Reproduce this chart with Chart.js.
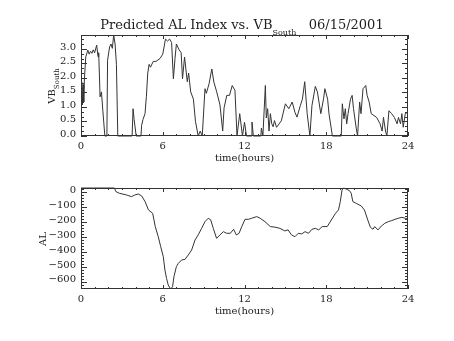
<!DOCTYPE html>
<html lang="en">
<head>
<meta charset="UTF-8">
<title>Predicted AL Index vs. VB South 06/15/2001</title>
<script src="https://cdn.jsdelivr.net/npm/chart.js"></script>
<style>
    body {
        margin: 0;
        background: #fff;
    }
    #wrap {
        position: relative;
        width: 454px;
        height: 341px;
        font-family: 'DejaVu Serif', serif;
        color: #222;
    }
    #top { position: absolute; left: 0; top: 0; }
    #bottom { position: absolute; left: 0; top: 170px; }
    .title {
        position: absolute;
        left: 242px;
        top: 18px;
        transform: translateX(-50%);
        font-size: 13px;
        line-height: 13px;
        white-space: nowrap;
    }
    .lo {
        position: relative;
        top: 6px;
        font-size: 8px;
    }
    .ylab {
        position: absolute;
        transform: translate(-50%, -50%) rotate(-90deg);
        font-size: 10px;
        line-height: 10px;
        white-space: nowrap;
    }
</style>
</head>
<body>
<div id="wrap">
    <canvas id="top" width="454" height="170"></canvas>
    <canvas id="bottom" width="454" height="171"></canvas>
    <div class="title">Predicted AL Index vs. VB<span class="lo">South</span>&nbsp;&nbsp;&nbsp;06/15/2001</div>
    <div class="ylab" style="left:52px; top:86px;">VB<span class="lo" style="top:4px;font-size:7px;">South</span></div>
    <div class="ylab" style="left:43px; top:239px;">AL</div>
</div>

<script>
// hours of day and the two series
const hourTicks = [0, 6, 12, 18, 24];

const vbTime = [0, 0.05, 0.1, 0.15, 0.2, 0.25, 0.35, 0.5, 0.6, 0.7, 0.8, 0.9, 1.0, 1.15, 1.25, 1.3, 1.4, 1.5, 1.6, 1.75,
    1.9, 1.95, 2.1, 2.2, 2.3, 2.4, 2.5, 2.6, 2.7, 3.75, 3.82, 3.9, 4.05, 4.4, 4.45, 4.55, 4.7, 4.8, 4.9, 5.0,
    5.1, 5.3, 5.5, 5.8, 6.0, 6.2, 6.35, 6.5, 6.65, 6.78, 6.9, 7.0, 7.2, 7.35, 7.45, 7.6, 7.8, 7.9, 8.05, 8.25,
    8.4, 8.6, 8.75, 8.9, 9.1, 9.2, 9.4, 9.6, 9.75, 9.96, 10.2, 10.4, 10.5, 10.7, 10.9, 11.1, 11.3, 11.45, 11.65, 11.85,
    12.0, 12.15, 12.5, 12.55, 12.65, 13.2, 13.24, 13.35, 13.53, 13.6, 13.7, 13.8, 13.9, 14.0, 14.1, 14.2, 14.35, 14.7, 15.0, 15.25,
    15.5, 15.7, 15.85, 16.1, 16.25, 16.42, 16.6, 16.8, 16.95, 17.2, 17.35, 17.6, 17.8, 17.9, 18.1, 18.2, 18.45, 19.1, 19.18, 19.3,
    19.4, 19.5, 19.6, 19.78, 19.9, 20.0, 20.2, 20.3, 20.45, 20.55, 20.7, 20.9, 21.0, 21.15, 21.3, 21.7, 21.95, 22.1, 22.2, 22.35,
    22.45, 22.6, 22.8, 23.0, 23.2, 23.3, 23.45, 23.55, 23.65, 23.8, 24.0];
const vbSouth = [1.07, 1.87, 1.07, 1.77, 1.17, 1.97, 2.73, 2.96, 2.82, 2.92, 2.85, 2.97, 2.87, 3.13, 2.73, 2.87, 1.35, 1.52, 0.89, 0,
    0, 2.61, 3.07, 3.17, 3.02, 3.48, 3.17, 2.47, 0, 0, 0.94, 0.57, 0, 0, 0.37, 0.57, 0.77, 1.37, 2.17, 2.47,
    2.37, 2.57, 2.57, 2.67, 2.82, 3.34, 3.27, 3.34, 3.22, 1.97, 2.67, 3.17, 2.97, 2.87, 1.97, 2.72, 1.87, 2.17, 1.52, 1.27,
    0.51, 0, 0.17, 0, 1.63, 1.47, 1.8, 2.31, 1.86, 1.52, 1.07, 0.17, 0.97, 1.4, 1.4, 1.74, 1.57, 0, 0.77, 0,
    0.47, 0, 0, 0.48, 0, 0, 0.27, 0, 1.74, 0.62, 0.94, 0.17, 0.77, 0.42, 0.32, 0.53, 0.3, 0.52, 1.11, 0.94,
    1.17, 0.82, 0.65, 1.05, 1.27, 1.87, 0.77, 0, 1.05, 1.71, 1.52, 0.77, 1.28, 1.63, 1.27, 0.77, 0, 0, 1.11, 0.59,
    0.94, 0.42, 0.77, 1.27, 1.4, 0.94, 0.27, 0, 1.17, 0.77, 1.63, 1.74, 1.4, 1.17, 0.77, 0.64, 0.42, 0.17, 0.64, 0.17,
    0, 0.87, 0.77, 0.64, 0.42, 0.64, 0.42, 0.77, 0.3, 0.77, 0.82];
const vbTicks = [0, 0.5, 1.0, 1.5, 2.0, 2.5, 3.0];

const alTime = [0, 2.45, 2.56, 2.8, 3.35, 3.7, 3.95, 4.2, 4.45, 4.7, 4.95, 5.26, 5.45, 5.67, 5.85, 6.04, 6.16, 6.28, 6.4, 6.58,
    6.72, 6.82, 7.0, 7.14, 7.39, 7.63, 7.87, 8.12, 8.37, 8.6, 8.85, 9.1, 9.34, 9.52, 9.71, 9.95, 10.2, 10.45, 10.69, 10.96,
    11.2, 11.4, 11.6, 11.8, 12.04, 12.3, 12.53, 12.9, 13.15, 13.5, 13.9, 14.25, 14.6, 14.96, 15.2, 15.45, 15.7, 15.95, 16.2, 16.45,
    16.7, 16.95, 17.2, 17.45, 17.7, 18.07, 18.37, 18.68, 18.9, 19.03, 19.16, 19.28, 19.48, 19.7, 19.83, 19.95, 20.2, 20.57, 20.8, 21.05,
    21.24, 21.43, 21.55, 21.8, 22.05, 22.3, 22.55, 22.8, 23.05, 23.3, 23.55, 23.8, 24.0];
const alIndex = [30, 30, 6, -5, -17, -28, -17, -10, -23, -61, -117, -140, -229, -297, -364, -431, -521, -577, -621, -648,
    -633, -565, -498, -476, -453, -449, -420, -386, -319, -285, -241, -196, -173, -184, -241, -308, -285, -263, -274, -274,
    -247, -285, -274, -229, -180, -180, -173, -162, -173, -196, -229, -233, -241, -258, -251, -285, -297, -274, -278, -263,
    -274, -247, -241, -251, -229, -229, -185, -140, -117, -61, 17, 30, 22, 13, -5, -61, -73, -91, -117, -185,
    -234, -247, -229, -251, -225, -207, -196, -189, -180, -173, -167, -173, -180];
const alTicks = [0, -100, -200, -300, -400, -500, -600];

const ink = '#222';
const tickFont = { family: "'DejaVu Serif', serif", size: 10 };

// box around the plot with inward ticks on all four sides
const idlFrame = {
    id: 'idlFrame',
    afterDatasetsDraw(chart, args, opts) {
        const { ctx, chartArea: a, scales: { x, y } } = chart;
        const isMajor = (v, step) => Math.abs(v / step - Math.round(v / step)) < 1e-6;
        ctx.save();
        ctx.strokeStyle = '#333';
        ctx.lineWidth = 1;
        ctx.strokeRect(a.left + 0.5, a.top + 0.5, a.right - a.left - 1, a.bottom - a.top - 1);
        ctx.beginPath();
        for (let v = x.min; v <= x.max + 1e-9; v += opts.xMinor) {
            const px = Math.round(x.getPixelForValue(v)) + 0.5;
            const len = isMajor(v, opts.xMajor) ? opts.xLen : opts.xLen / 2;
            ctx.moveTo(px, a.bottom); ctx.lineTo(px, a.bottom - len);
            ctx.moveTo(px, a.top); ctx.lineTo(px, a.top + len);
        }
        const start = Math.ceil(y.min / opts.yMinor - 1e-6) * opts.yMinor;
        for (let v = start; v <= y.max + 1e-9; v += opts.yMinor) {
            const py = Math.round(y.getPixelForValue(v)) + 0.5;
            const len = isMajor(v, opts.yMajor) ? opts.yLen : opts.yLen / 2;
            ctx.moveTo(a.left, py); ctx.lineTo(a.left + len, py);
            ctx.moveTo(a.right, py); ctx.lineTo(a.right - len, py);
        }
        ctx.stroke();
        ctx.restore();
    }
};

function makePanel(canvasId, times, values, yMin, yMax, yTicks, fmt, frame, pad) {
    return new Chart(document.getElementById(canvasId), {
        type: 'line',
        data: {
            datasets: [{
                data: times.map((t, i) => ({ x: t, y: values[i] })),
                borderColor: '#333',
                borderWidth: 1,
                pointRadius: 0,
                tension: 0
            }]
        },
        options: {
            responsive: false,
            animation: false,
            events: [],
            clip: false,
            layout: { padding: pad },
            plugins: {
                legend: { display: false },
                tooltip: { enabled: false },
                idlFrame: frame
            },
            scales: {
                x: {
                    type: 'linear',
                    min: 0,
                    max: 24,
                    grid: { display: false, drawTicks: false },
                    border: { display: false },
                    afterBuildTicks: s => { s.ticks = hourTicks.map(v => ({ value: v })); },
                    afterFit: s => { s.height = 28; },
                    ticks: { padding: 4, color: ink, font: tickFont, maxRotation: 0 },
                    title: { display: true, text: 'time(hours)', color: ink, font: tickFont, padding: 0 }
                },
                y: {
                    min: yMin,
                    max: yMax,
                    grid: { display: false, drawTicks: false },
                    border: { display: false },
                    afterBuildTicks: s => { s.ticks = yTicks.map(v => ({ value: v })); },
                    afterFit: s => { s.width = 81; },
                    ticks: { padding: 5, labelOffset: -2, color: ink, font: tickFont, callback: fmt }
                }
            }
        },
        plugins: [idlFrame]
    });
}

makePanel('top', vbTime, vbSouth, 0, 3.48, vbTicks, v => v.toFixed(1),
    { xMajor: 6, xMinor: 1, xLen: 4, yMajor: 0.5, yMinor: 0.5 / 3, yLen: 6 },
    { top: 35, right: 46, bottom: 6, left: 0 });

makePanel('bottom', alTime, alIndex, -648, 30, alTicks, v => v === 0 ? '0' : '\u2212' + Math.abs(v),
    { xMajor: 6, xMinor: 1, xLen: 4, yMajor: 100, yMinor: 20, yLen: 6 },
    { top: 18, right: 46, bottom: 24, left: 0 });
</script>
</body>
</html>
